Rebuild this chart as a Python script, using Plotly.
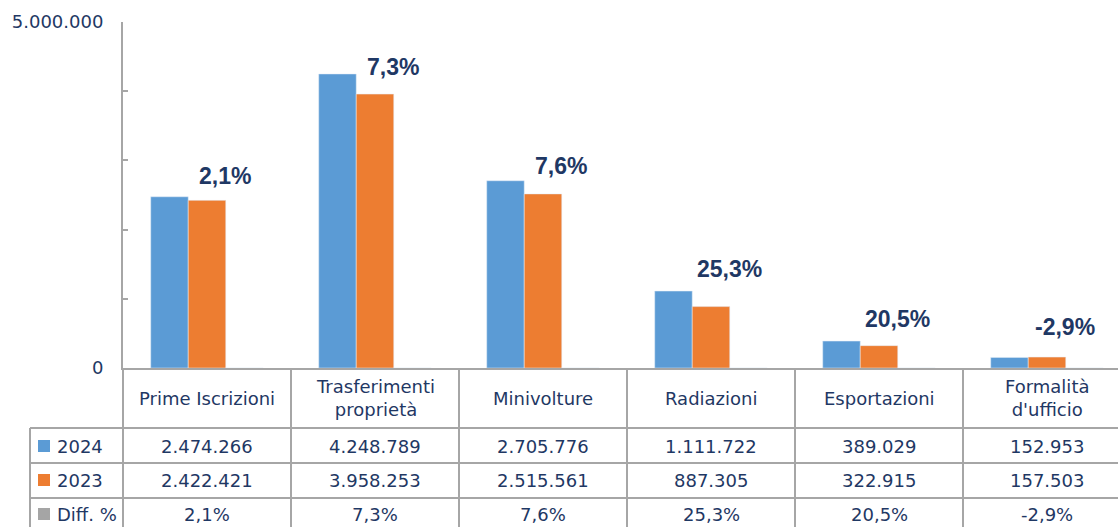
import plotly.graph_objects as go

W, H = 1118, 527

categorie = ["Prime Iscrizioni", "Trasferimenti<br>proprietà", "Minivolture",
             "Radiazioni", "Esportazioni", "Formalità<br>d'ufficio"]
anno_2024 = [2474266, 4248789, 2705776, 1111722, 389029, 152953]
anno_2023 = [2422421, 3958253, 2515561, 887305, 322915, 157503]
diff_pct = [2.1, 7.3, 7.6, 25.3, 20.5, -2.9]
y_ticks = [0, 1000000, 2000000, 3000000, 4000000, 5000000]

BLU = "#5B9BD5"
ARANCIO = "#ED7D31"
GRIGIO = "#A5A5A5"
NAVY = "#1F3864"
LINEA = "#A6A6A6"
FONT = "DejaVu Sans"

# spostamento verticale delle etichette % sopra le barre (px)
label_lift = [24, 27, 28, 38, 27, 30]


def num_it(v):
    return f"{v:,}".replace(",", ".")


def pct_it(v):
    return f"{v:.1f}".replace(".", ",") + "%"


# coordinate pagina (px) -> coordinate paper
def px(x):
    return x / W


def py(y):
    return 1 - y / H


fig = go.Figure()
fig.add_trace(go.Bar(x=categorie, y=anno_2024, name="2024", marker_color=BLU))
fig.add_trace(go.Bar(x=categorie, y=anno_2023, name="2023", marker_color=ARANCIO))
# serie Diff. % (invisibile sulla scala dei volumi)
fig.add_trace(go.Bar(x=categorie, y=diff_pct, name="Diff. %", marker_color=GRIGIO))

annotations = []
shapes = []

# etichette percentuali sopra le barre
for cat, v, d, lift in zip(categorie, anno_2023, diff_pct, label_lift):
    annotations.append(dict(
        x=cat, y=v, xref="x", yref="y", text=pct_it(d), showarrow=False,
        xshift=18, yshift=lift, yanchor="middle",
        font=dict(family="Liberation Sans", size=23, color=NAVY, weight="bold")))

# tabella dati
row_y = [446, 480, 514]
righe = [("2024", BLU, [num_it(v) for v in anno_2024]),
         ("2023", ARANCIO, [num_it(v) for v in anno_2023]),
         ("Diff. %", GRIGIO, [pct_it(v) for v in diff_pct])]

for cat in categorie:
    annotations.append(dict(
        x=cat, y=py(398), xref="x", yref="paper", text=cat, showarrow=False,
        yanchor="middle", font=dict(family=FONT, size=18, color=NAVY)))

for (nome, col, vals), yc in zip(righe, row_y):
    annotations.append(dict(
        x=px(55), y=py(yc), xref="paper", yref="paper", text=nome, showarrow=False,
        xanchor="left", yanchor="middle", font=dict(family=FONT, size=18, color=NAVY)))
    shapes.append(dict(type="rect", xref="paper", yref="paper",
                       x0=px(38), x1=px(50), y0=py(yc + 6), y1=py(yc - 6),
                       fillcolor=col, line_width=0))
    for cat, t in zip(categorie, vals):
        annotations.append(dict(
            x=cat, y=py(yc), xref="x", yref="paper", text=t, showarrow=False,
            yanchor="middle", font=dict(family=FONT, size=18, color=NAVY)))

# griglia della tabella
for yl in [428, 463, 498]:
    shapes.append(dict(type="line", xref="paper", yref="paper",
                       x0=px(30), x1=1, y0=py(yl), y1=py(yl),
                       line=dict(color=LINEA, width=2)))
shapes.append(dict(type="line", xref="paper", yref="paper",
                   x0=px(30), x1=px(30), y0=py(428), y1=0,
                   line=dict(color=LINEA, width=2)))
shapes.append(dict(type="line", xref="paper", yref="paper",
                   x0=px(123), x1=px(123), y0=py(368), y1=0,
                   line=dict(color=LINEA, width=2)))
for i in range(1, len(categorie)):
    shapes.append(dict(type="line", xref="x", yref="paper",
                       x0=i - 0.5, x1=i - 0.5, y0=py(368), y1=0,
                       line=dict(color=LINEA, width=2)))

fig.update_layout(
    width=W, height=H,
    margin=dict(l=0, r=0, t=0, b=0),
    paper_bgcolor="white", plot_bgcolor="white",
    barmode="group", bargap=0.33, bargroupgap=0,
    showlegend=False,
    xaxis=dict(domain=[px(123), 1], range=[-0.5, -0.5 + 995 / 168],
               automargin=False,
               showticklabels=False, ticks="", showgrid=False, zeroline=False,
               showline=True, linecolor=LINEA, linewidth=2),
    yaxis=dict(domain=[py(368), py(22)], range=[0, 5000000],
               automargin=False,
               tickvals=y_ticks,
               ticktext=["0", "", "", "", "", num_it(y_ticks[-1])],
               ticks="inside", ticklen=5, tickwidth=1.5, tickcolor=LINEA,
               showline=True, linecolor=LINEA, linewidth=2,
               showgrid=False, zeroline=False, ticklabelstandoff=14,
               tickfont=dict(family=FONT, size=18, color=NAVY)),
    annotations=annotations,
    shapes=shapes,
)

# niente margine della pagina né barre di scorrimento
fig.write_html("out.html",
               config={"displayModeBar": False},
               post_script="document.body.style.margin='0';"
                           "document.body.style.overflow='hidden';")
